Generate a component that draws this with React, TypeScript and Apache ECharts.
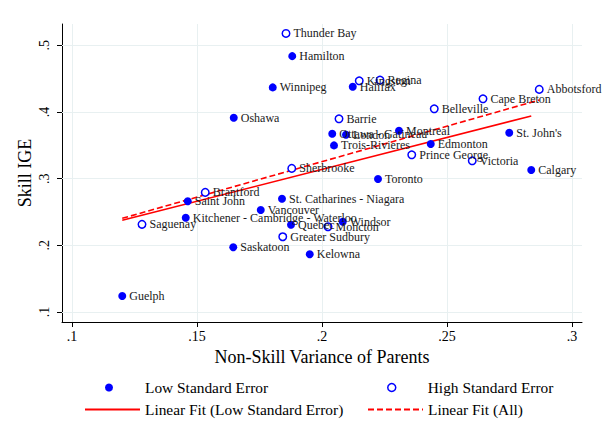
import React, { useEffect, useRef } from "react";
import * as echarts from "echarts";

const lowNames = ["Hamilton", "Halifax", "Winnipeg", "Oshawa", "Ottawa - Gatineau", "London", "Montreal", "St. John's", "Edmonton", "Trois-Rivieres", "Calgary", "Toronto", "Saint John", "St. Catharines - Niagara", "Vancouver", "Kitchener - Cambridge - Waterloo", "Quebec", "Windsor", "Saskatoon", "Kelowna", "Guelph"];
const lowX = [0.1881, 0.2123, 0.1803, 0.1647, 0.2041, 0.2096, 0.2308, 0.2749, 0.2435, 0.2048, 0.2837, 0.2224, 0.1463, 0.184, 0.1755, 0.1455, 0.1876, 0.2083, 0.1645, 0.1951, 0.1201];
const lowY = [0.4838, 0.4378, 0.4369, 0.3913, 0.3673, 0.3658, 0.3718, 0.3688, 0.3519, 0.3499, 0.3129, 0.2994, 0.266, 0.2699, 0.2529, 0.2414, 0.2309, 0.2354, 0.197, 0.1865, 0.124];

const highNames = ["Thunder Bay", "Kingston", "Regina", "Abbotsford", "Cape Breton", "Belleville", "Barrie", "Prince George", "Victoria", "Sherbrooke", "Brantford", "Saguenay", "Moncton", "Greater Sudbury"];
const highX = [0.1856, 0.2149, 0.2232, 0.2869, 0.2644, 0.2449, 0.2068, 0.2359, 0.2601, 0.1879, 0.1533, 0.128, 0.2024, 0.1843];
const highY = [0.5178, 0.4468, 0.4478, 0.4339, 0.4198, 0.4048, 0.3898, 0.3358, 0.3268, 0.3154, 0.2794, 0.2315, 0.2279, 0.2129];

const fitLowX = [0.1201, 0.2837];
const fitLowY = [0.2375, 0.394];
const fitAllX = [0.1201, 0.2869];
const fitAllY = [0.2405, 0.418];

const xTicks = [0.1, 0.15, 0.2, 0.25, 0.3];
const yTicks = [0.1, 0.2, 0.3, 0.4, 0.5];

const SERIF = "'Liberation Serif', 'Times New Roman', serif";
const BLUE = "#0000ff";
const RED = "#ff0000";

const fmt = (v: number) => String(+v.toFixed(3)).replace(/^0\./, ".");

export default function App() {
  const ref = useRef<HTMLDivElement>(null);
  useEffect(() => {
    if (!ref.current) return;
    const chart = echarts.init(ref.current, null, { renderer: "svg" });
    const labelStyle = {
      show: true,
      position: "right" as const,
      distance: 3,
      fontFamily: SERIF,
      fontSize: 12,
      color: "#1a1a1a",
      formatter: (p: any) => p.name,
    };
    const legendBase = {
      orient: "horizontal" as const,
      padding: 0,
      itemHeight: 8,
      itemGap: 0,
      selectedMode: false,
      textStyle: { fontFamily: SERIF, fontSize: 15.4, color: "#000" },
    };
    const hiddenSymbol = { color: "rgba(0,0,0,0)", borderWidth: 0, opacity: 0 };
    chart.setOption({
      animation: false,
      backgroundColor: "#fff",
      grid: { left: 62, top: 24, width: 520, height: 298, containLabel: false },
      xAxis: {
        type: "value",
        min: 0.096,
        max: 0.304,
        name: "Non-Skill Variance of Parents",
        nameLocation: "middle",
        nameGap: 22,
        nameTextStyle: { fontFamily: SERIF, fontSize: 18, color: "#000" },
        axisLine: { show: true, onZero: false, lineStyle: { color: "#000", width: 1 } },
        axisTick: { show: true, length: 5, customValues: xTicks, lineStyle: { color: "#000" } },
        axisLabel: {
          customValues: xTicks,
          margin: 7,
          fontFamily: SERIF,
          fontSize: 14,
          color: "#000",
          formatter: (v: number) => fmt(v),
        },
        splitLine: { show: false },
      },
      yAxis: {
        type: "value",
        min: 0.085,
        max: 0.532,
        name: "Skill IGE",
        nameLocation: "middle",
        nameGap: 28,
        nameMoveOverlap: false,
        nameTextStyle: { fontFamily: SERIF, fontSize: 18, color: "#000" },
        axisLine: { show: true, onZero: false, lineStyle: { color: "#000", width: 1 } },
        axisTick: { show: true, length: 5, customValues: yTicks, lineStyle: { color: "#000" } },
        axisLabel: {
          customValues: yTicks,
          rotate: 90,
          margin: 11,
          fontFamily: SERIF,
          fontSize: 14,
          color: "#000",
          formatter: (v: number) => fmt(v),
        },
        splitLine: { show: false },
      },
      legend: [
        { ...legendBase, itemWidth: 62, left: 105, top: 380, data: [{ name: "Low Standard Error", icon: "circle" }] },
        {
          ...legendBase,
          itemWidth: 62,
          left: 387,
          top: 380,
          data: [{ name: "High Standard Error", icon: "circle", itemStyle: { color: "#fff", borderColor: BLUE, borderWidth: 1.5 } }],
        },
        { ...legendBase, itemWidth: 55, left: 84, top: 402, data: [{ name: "Linear Fit (Low Standard Error)", itemStyle: hiddenSymbol }] },
        { ...legendBase, itemWidth: 55, left: 367, top: 402, data: [{ name: "Linear Fit (All)", itemStyle: hiddenSymbol }] },
      ],
      series: [
        {
          type: "line",
          name: "gridlines",
          data: [],
          silent: true,
          z: 1,
          markLine: {
            silent: true,
            z: 1,
            symbol: "none",
            label: { show: false },
            lineStyle: { color: "#e8f0f1", width: 1, type: "solid" },
            data: [
              ...xTicks.map((v) => ({ xAxis: v })),
              ...yTicks.map((v) => ({ yAxis: v })),
            ],
          },
        },
        {
          type: "line",
          name: "Linear Fit (Low Standard Error)",
          data: fitLowX.map((x, i) => [x, fitLowY[i]]),
          symbol: "none",
          lineStyle: { color: RED, width: 1.6, type: "solid" },
          itemStyle: { color: RED },
          z: 3,
        },
        {
          type: "line",
          name: "Linear Fit (All)",
          data: fitAllX.map((x, i) => [x, fitAllY[i]]),
          symbol: "none",
          lineStyle: { color: RED, width: 1.6, type: [6, 3] },
          itemStyle: { color: RED },
          z: 3,
        },
        {
          type: "scatter",
          name: "Low Standard Error",
          symbol: "circle",
          symbolSize: 8,
          itemStyle: { color: BLUE, opacity: 1 },
          label: labelStyle,
          data: lowNames.map((n, i) => ({ name: n, value: [lowX[i], lowY[i]] })),
          z: 4,
        },
        {
          type: "scatter",
          name: "High Standard Error",
          symbol: "circle",
          symbolSize: 7.5,
          itemStyle: { color: "#fff", borderColor: BLUE, borderWidth: 1.5, opacity: 1 },
          label: labelStyle,
          data: highNames.map((n, i) => ({ name: n, value: [highX[i], highY[i]] })),
          z: 4,
        },
      ],
    });
    return () => chart.dispose();
  }, []);
  return (
    <div
      ref={ref}
      style={{ position: "fixed", left: 0, top: 0, width: 605, height: 444, background: "#fff" }}
    />
  );
}
